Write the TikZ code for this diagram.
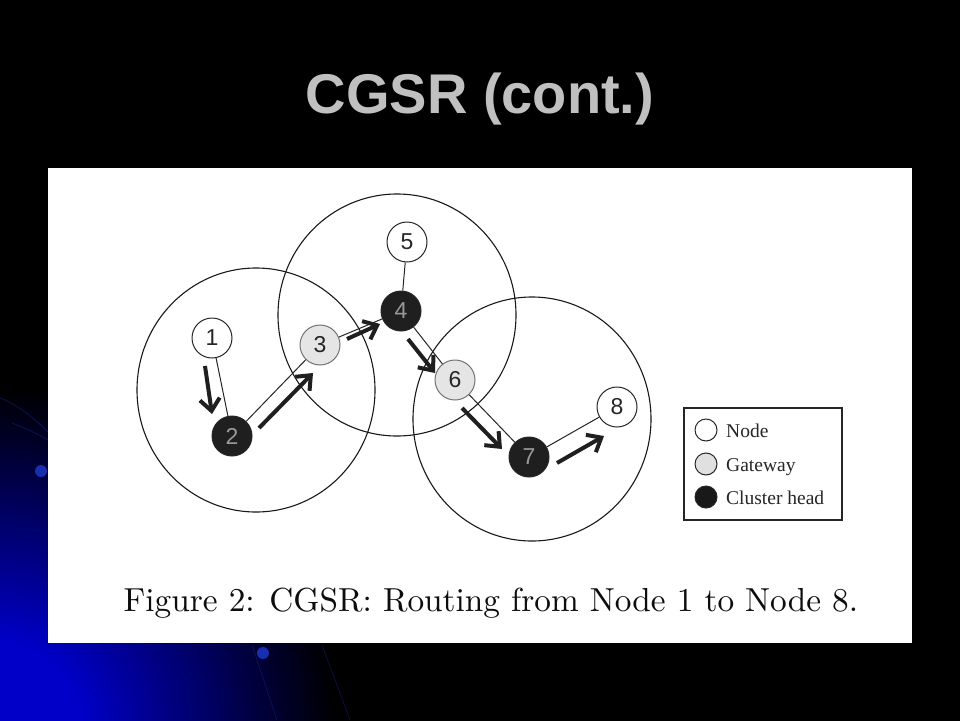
\documentclass[tikz,border=0pt]{standalone}
\usepackage{fontspec}
\newfontfamily\arialf{Liberation Sans}
\newfontfamily\timesf{Liberation Serif}
\usetikzlibrary{arrows.meta}
\definecolor{bgA}{RGB}{0,0,200}
\definecolor{bgdot}{RGB}{25,45,175}
\definecolor{bgline}{RGB}{20,30,120}
\definecolor{titlegray}{RGB}{192,192,192}
\begin{document}
\begin{tikzpicture}[x=1pt,y=-1pt,
  net/.style={circle, minimum size=40pt, inner sep=0pt, draw=black!85, line width=1pt,
              font=\arialf\fontsize{23}{23}\selectfont},
  plainnode/.style={net, fill=white, text=black!85},
  gatenode/.style={net, fill=black!10, draw=black!55, text=black!85},
  headnode/.style={net, fill=black!88, text=black!40},
  link/.style={line width=1pt, draw=black!85},
  flow/.style={line width=4pt, draw=black!88, -{Straight Barb[length=12pt,width=20pt]}},
  rangecirc/.style={line width=1.1pt, draw=black!90},
  keydot/.style={circle, minimum size=22pt, inner sep=0pt, draw=black!85, line width=1pt},
  keytext/.style={anchor=base west, inner sep=0pt, text=black!85, font=\timesf\fontsize{19.5}{20}\selectfont}
]
\useasboundingbox (0,0) rectangle (960,720);
% background
\fill[black] (-5,-5) rectangle (965,725);
\begin{scope}
  \clip (0,0) rectangle (960,720);
  \foreach \r in {350,345,...,5} {
    \pgfmathsetmacro\p{min(100,max(0,(345-\r)/2.55))}
    \fill[bgA!\p!black] (-6,730) circle (\r pt);
  }
  \draw[bgline, line width=0.8pt, opacity=0.6] (0,398) .. controls (18,405) and (34,418) .. (48,432);
  \draw[bgline, line width=0.8pt, opacity=0.6] (12,423) .. controls (25,428) and (38,434) .. (48,440);
  \draw[bgline, line width=0.8pt, opacity=0.5] (252,645) -- (277,720);
  \draw[bgline, line width=0.8pt, opacity=0.5] (322,645) -- (350,720);
  \fill[bgdot] (41,471) circle (6pt);
  \fill[bgdot] (263,653) circle (6pt);
\end{scope}
% title
\node[anchor=base, inner sep=0pt, font=\arialf\bfseries\fontsize{56}{56}\selectfont, text=titlegray] (title) at (480,113) {CGSR (cont.)};
% white panel
\fill[white] (48,168) rectangle (912,643);
% range circles
\draw[rangecirc] (256,390) circle[x radius=119pt, y radius=122pt];
\draw[rangecirc] (397,315) circle[x radius=119pt, y radius=121pt];
\draw[rangecirc] (532,419) circle[x radius=119pt, y radius=122pt];
% nodes
\node[plainnode] (n1) at (212,338) {1};
\node[headnode]  (n2) at (232,436) {2};
\node[gatenode]  (n3) at (320,345) {3};
\node[headnode]  (n4) at (401,311) {4};
\node[plainnode] (n5) at (407,242) {5};
\node[gatenode]  (n6) at (455,380) {6};
\node[headnode]  (n7) at (529,457) {7};
\node[plainnode] (n8) at (617,407) {8};
% links
\draw[link] (n1) -- (n2);
\draw[link] (n2) -- (n3);
\draw[link] (n3) -- (n4);
\draw[link] (n4) -- (n5);
\draw[link] (n4) -- (n6);
\draw[link] (n6) -- (n7);
\draw[link] (n7) -- (n8);
% routing arrows
\coordinate (a1s) at (205,366);   \coordinate (a1e) at (212,414);
\coordinate (a2s) at (259,428);   \coordinate (a2e) at (313,373);
\coordinate (a3s) at (347,339);   \coordinate (a3e) at (380,324);
\coordinate (a4s) at (408,339);   \coordinate (a4e) at (435,373);
\coordinate (a5s) at (462,408);   \coordinate (a5e) at (502,449);
\coordinate (a6s) at (557,463);   \coordinate (a6e) at (604,436);
\draw[flow] (a1s) -- (a1e);
\draw[flow] (a2s) -- (a2e);
\draw[flow] (a3s) -- (a3e);
\draw[flow] (a4s) -- (a4e);
\draw[flow] (a5s) -- (a5e);
\draw[flow] (a6s) -- (a6e);
% legend
\draw[line width=2pt, draw=black!85] (684,408) rectangle (842,520);
\node[keydot, fill=white]    (k1) at (706,430) {};
\node[keydot, fill=black!12] (k2) at (706,464) {};
\node[keydot, fill=black!90] (k3) at (706,497) {};
\node[keytext] (t1) at (726,437) {Node};
\node[keytext] (t2) at (726,471) {Gateway};
\node[keytext] (t3) at (726,504) {Cluster head};
% caption
\node[anchor=base west, inner sep=0pt, text=black!95, font=\fontsize{10}{12}\selectfont, scale=3.33, transform shape] (cap) at (123,611.5) {Figure 2: CGSR: Routing from Node 1 to Node 8.};
\end{tikzpicture}
\end{document}
